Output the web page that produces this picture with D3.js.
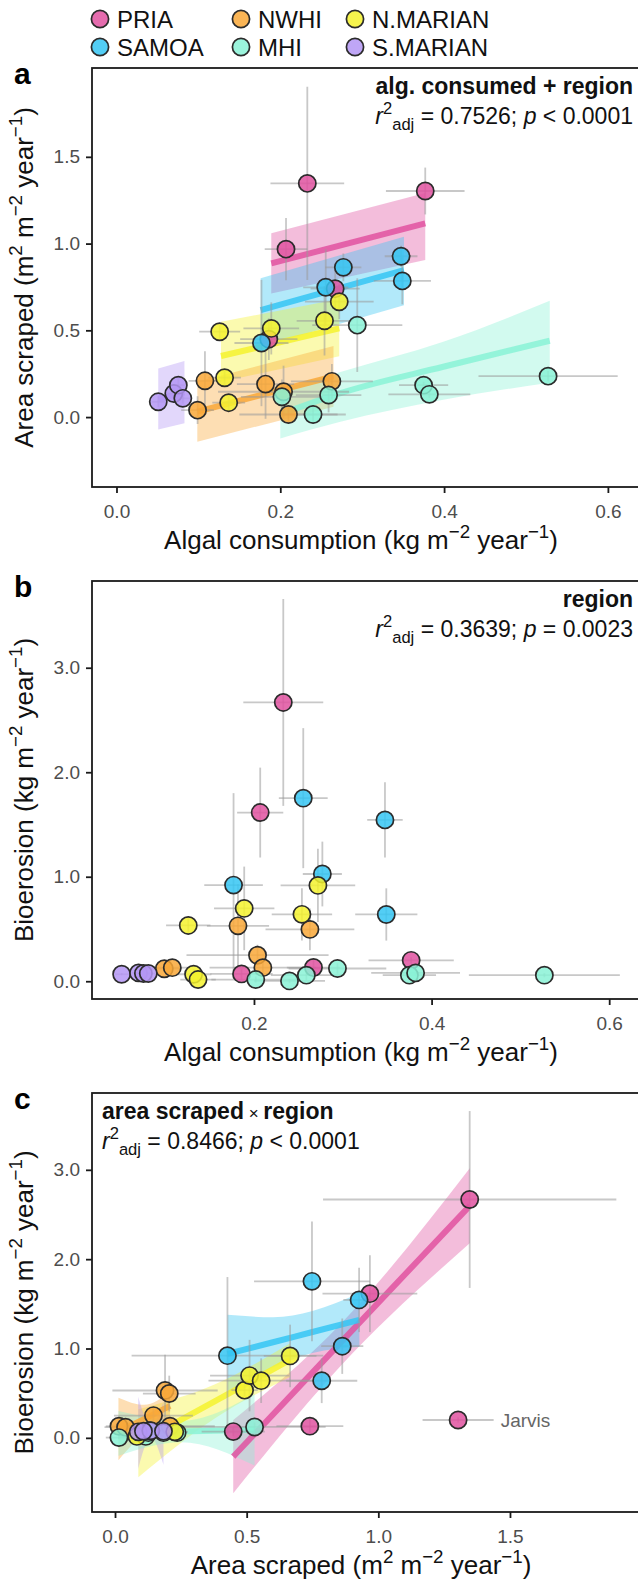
<!DOCTYPE html>
<html><head><meta charset="utf-8">
<script src="https://cdn.jsdelivr.net/npm/d3@7"></script>
<style>
body{margin:0;background:#fff}
svg{display:block}
text{font-family:"Liberation Sans",Arial,sans-serif}
</style></head>
<body><svg id="chart" width="638" height="1583"></svg>
<script>
// ---------- data ----------
const regions = ["PRIA","SAMOA","NWHI","MHI","N.MARIAN","S.MARIAN"];
const regionColors = ["#E052A0","#35C5F3","#F9A838","#8AF2D6","#F5F22E","#B497F5"];
const legendOrder = ["PRIA","NWHI","N.MARIAN","SAMOA","MHI","S.MARIAN"];

const ptRegion = ["PRIA","PRIA","PRIA","PRIA","PRIA",
  "SAMOA","SAMOA","SAMOA","SAMOA","SAMOA",
  "NWHI","NWHI","NWHI","NWHI","NWHI","NWHI",
  "MHI","MHI","MHI","MHI","MHI","MHI","MHI",
  "N.MARIAN","N.MARIAN","N.MARIAN","N.MARIAN","N.MARIAN","N.MARIAN",
  "S.MARIAN","S.MARIAN","S.MARIAN","S.MARIAN"];
const ptLabel = ["","","Jarvis","","", "","","","","", "","","","","","", "","","","","","","", "","","","","","", "","","",""];
const algal = [0.233,0.207,0.377,0.267,0.186, 0.177,0.2555,0.277,0.3475,0.349,
  0.182,0.263,0.204,0.210,0.099,0.108, 0.202,0.240,0.259,0.294,0.375,0.382,0.527,
  0.126,0.189,0.254,0.272,0.132,0.137, 0.051,0.070,0.0755,0.081];
const algalSE = [0.045,0.026,0.048,0.03,0.035, 0.033,0.0275,0.022,0.02,0.035,
  0.035,0.05,0.08,0.06,0.02,0.02, 0.05,0.04,0.04,0.055,0.03,0.05,0.085,
  0.025,0.034,0.034,0.042,0.02,0.02, 0.008,0.008,0.01,0.01];
const areaScraped = [1.347,0.968,1.303,0.74,0.449, 0.427,0.748,0.863,0.927,0.785,
  0.19,0.206,0.146,0.015,0.04,0.209, 0.117,0.015,0.127,0.53,0.184,0.131,0.236,
  0.492,0.511,0.555,0.665,0.227,0.083, 0.088,0.136,0.184,0.108];
const areaSE = [0.557,0.18,0.135,0.127,0.12, 0.364,0.22,0.08,0.06,0.135,
  0.2,0.1,0.15,0.05,0.08,0.17, 0.1,0.05,0.1,0.27,0.02,0.02,0.03,
  0.05,0.15,0.2,0.1,0.05,0.05, 0.03,0.04,0.04,0.03];
const bioerosion = [2.668,1.614,0.2,0.131,0.07, 0.92,1.752,1.026,1.544,0.639,
  0.53,0.496,0.249,0.13,0.12,0.13, 0.016,0.003,0.058,0.122,0.058,0.08,0.058,
  0.534,0.697,0.64,0.917,0.067,0.016, 0.067,0.08,0.074,0.074];
const bioSE = [0.99,0.43,0.03,0.08,0.05, 0.88,0.67,0.31,0.36,0.25,
  0.4,0.2,0.1,0.05,0.03,0.03, 0.03,0.02,0.05,0.05,0.03,0.03,0.02,
  0.07,0.4,0.25,0.35,0.05,0.03, 0.01,0.01,0.01,0.01];

// model fits: [region, x, lower, fit, upper]
const fitA = [
  ["PRIA",0.189,0.713,0.886,1.059],["PRIA",0.377,0.905,1.116,1.291],
  ["SAMOA",0.176,0.405,0.617,0.80],["SAMOA",0.351,0.645,0.847,1.04],
  ["N.MARIAN",0.1276,0.203,0.352,0.549],["N.MARIAN",0.272,0.35,0.511,0.68],
  ["NWHI",0.0987,-0.142,0.031,0.2035],["NWHI",0.265,0.06,0.235,0.409],
  ["MHI",0.2,-0.123,0.016,0.156],["MHI",0.2735,-0.027,0.138,0.26],["MHI",0.399,0.10,0.29,0.434],["MHI",0.529,0.198,0.44,0.67],
  ["S.MARIAN",0.051,-0.071,0.105,0.28],["S.MARIAN",0.083,-0.036,0.143,0.323]
];
const fitC = [
  ["PRIA",0.449,-0.62,-0.21,0.20],["PRIA",0.855,0.80,1.06,1.27],["PRIA",1.348,2.18,2.60,3.02],
  ["SAMOA",0.427,0.503,0.94,1.377],["SAMOA",0.6,0.79,1.07,1.35],["SAMOA",0.75,0.95,1.185,1.42],["SAMOA",0.928,1.02,1.32,1.62],
  ["N.MARIAN",0.0886,-0.44,-0.06,0.32],["N.MARIAN",0.38,0.22,0.41,0.60],["N.MARIAN",0.665,0.68,0.873,1.06],
  ["NWHI",0.013,-0.25,0.07,0.45],["NWHI",0.11,0.05,0.21,0.37],["NWHI",0.209,0.20,0.358,0.52],
  ["S.MARIAN",0.088,-0.35,0.07,0.46],["S.MARIAN",0.136,0.0,0.07,0.14],["S.MARIAN",0.184,-0.30,0.07,0.40],
  ["MHI",0.013,-0.20,0.05,0.30],["MHI",0.25,-0.05,0.07,0.19],["MHI",0.53,-0.31,0.09,0.49]
];

const xTicksA=[0,0.2,0.4,0.6], yTicksA=[0,0.5,1.0,1.5];
const xTicksB=[0.2,0.4,0.6],  yTicksB=[0,1,2,3];
const xTicksC=[0,0.5,1.0,1.5],yTicksC=[0,1,2,3];
const xDomA=[-0.0299,0.6441], yDomA=[-0.403,2.012];
const xDomB=[0.0176,0.6392],  yDomB=[-0.17,3.83];
const xDomC=[-0.0874,2.009],  yDomC=[-0.83,3.86];

// ---------- drawing ----------
const svg = d3.select("#chart");
const color = d3.scaleOrdinal().domain(regions).range(regionColors);
const L = 92, R = 644;
const pts = algal.map((d,i)=>({region:ptRegion[i],label:ptLabel[i],alg:d,algSE:algalSE[i],
  area:areaScraped[i],areaSE:areaSE[i],bio:bioerosion[i],bioSE:bioSE[i]}));

function richText(g, parts, fs){
  let prev = 0;
  parts.forEach(p=>{
    const t = g.append("tspan").text(p[0]);
    let shift = 0, size = fs;
    if(p[1]==="sup"){shift=-fs*0.42; size=fs*0.72;}
    if(p[1]==="sub"){shift=fs*0.28; size=fs*0.72;}
    t.attr("dy", shift - prev).style("font-size", size+"px");
    if(p[2]) t.style("font-style","italic");
    prev = shift;
  });
}

function panel(o){
  const x = d3.scaleLinear().domain(o.xDom).range([L,R]);
  const y = d3.scaleLinear().domain(o.yDom).range([o.bottom,o.top]);
  const g = svg.append("g");
  const cid = "clip"+o.id;
  svg.append("clipPath").attr("id",cid).append("rect")
    .attr("x",L).attr("y",o.top).attr("width",R-L).attr("height",o.bottom-o.top);
  const pg = g.append("g").attr("clip-path",`url(#${cid})`);

  if(o.fit){
    const groups = d3.groups(o.fit, d=>d[0]);
    const area = d3.area().x(d=>x(d[1])).y0(d=>y(d[2])).y1(d=>y(d[4])).curve(d3.curveMonotoneX);
    const line = d3.line().x(d=>x(d[1])).y(d=>y(d[3])).curve(d3.curveMonotoneX);
    groups.forEach(([r,arr])=>{
      pg.append("path").attr("d",area(arr)).attr("fill",color(r)).attr("fill-opacity",0.38);
    });
    groups.forEach(([r,arr])=>{
      pg.append("path").attr("d",line(arr)).attr("fill","none").attr("stroke",color(r))
        .attr("stroke-width",6).attr("stroke-opacity",0.85);
    });
  }
  const eb = pg.append("g").attr("stroke","#9a9a9a").attr("stroke-opacity",0.55).attr("stroke-width",1.8);
  pts.forEach(p=>{
    const cx=x(p[o.xk]), cy=y(p[o.yk]);
    eb.append("line").attr("x1",x(p[o.xk]-p[o.xk+"SE"])).attr("x2",x(p[o.xk]+p[o.xk+"SE"])).attr("y1",cy).attr("y2",cy);
    eb.append("line").attr("y1",y(p[o.yk]-p[o.yk+"SE"])).attr("y2",y(p[o.yk]+p[o.yk+"SE"])).attr("x1",cx).attr("x2",cx);
  });
  pg.append("g").selectAll("circle").data(pts).join("circle")
    .attr("cx",p=>x(p[o.xk])).attr("cy",p=>y(p[o.yk])).attr("r",8.6)
    .attr("fill",p=>color(p.region)).attr("fill-opacity",0.85)
    .attr("stroke","#2b2b2b").attr("stroke-width",1.7);
  if(o.jarvis){
    pts.filter(p=>p.label).forEach(p=>{
      pg.append("text").attr("x",x(p[o.xk]+p[o.xk+"SE"])+7).attr("y",y(p[o.yk])+7)
        .attr("fill","#666").style("font-size","19px").text(p.label);
    });
  }
  g.append("rect").attr("x",L).attr("y",o.top).attr("width",R-L).attr("height",o.bottom-o.top)
    .attr("fill","none").attr("stroke","#1a1a1a").attr("stroke-width",1.8);
  const xa = g.append("g").attr("transform",`translate(0,${o.bottom})`)
    .call(d3.axisBottom(x).tickValues(o.xTicks).tickFormat(d3.format(".1f")).tickSize(6).tickPadding(12));
  const ya = g.append("g").attr("transform",`translate(${L},0)`)
    .call(d3.axisLeft(y).tickValues(o.yTicks).tickFormat(d3.format(".1f")).tickSize(6).tickPadding(6));
  [xa,ya].forEach(a=>{
    a.select(".domain").remove();
    a.selectAll(".tick line").attr("stroke","#1a1a1a").attr("stroke-width",1.8);
    a.selectAll(".tick text").attr("fill","#4d4d4d").style("font-size","19px").style("font-family","Liberation Sans, Arial, sans-serif");
  });
  const xt = g.append("text").attr("x",(L+R)/2 - 7).attr("y",o.bottom+62).attr("text-anchor","middle")
    .style("font-size","26px").attr("fill","#111");
  richText(xt, o.xTitle, 26);
  const yt = g.append("text").attr("transform",`translate(33,${(o.top+o.bottom)/2}) rotate(-90)`)
    .attr("text-anchor","middle").style("font-size","26px").attr("fill","#111");
  richText(yt, o.yTitle, 26);
  g.append("text").attr("x",14).attr("y",o.top+16).style("font-size","30px").style("font-weight","bold").text(o.id);
  const a1 = g.append("text").attr("x",o.annX).attr("y",o.top+26).attr("text-anchor",o.annAnchor)
    .style("font-size","23px").style("font-weight","bold").attr("fill","#111");
  o.ann1.forEach(p=>{a1.append("tspan").text(p[0]).style("font-weight",p[1]?"normal":"bold").style("font-size",(p[1]?17:23)+"px");});
  const a2 = g.append("text").attr("x",o.annX).attr("y",o.top+56).attr("text-anchor",o.annAnchor)
    .style("font-size","23px").attr("fill","#111");
  richText(a2, o.ann2, 23);
}

const unitKg = [[" (kg m"],["−2","sup"],[" year"],["−1","sup"],[")"]];
panel({id:"a", top:68, bottom:487, xDom:xDomA, yDom:yDomA, xTicks:xTicksA, yTicks:yTicksA,
  xk:"alg", yk:"area", fit:fitA,
  xTitle:[["Algal consumption"]].concat(unitKg),
  yTitle:[["Area scraped (m"],["2","sup"],[" m"],["−2","sup"],[" year"],["−1","sup"],[")"]],
  annX:633, annAnchor:"end", ann1:[["alg. consumed + region"]],
  ann2:[["r","",true],["2","sup"],["adj","sub"],[" = 0.7526; "],["p","",true],[" < 0.0001"]]});
panel({id:"b", top:581, bottom:999, xDom:xDomB, yDom:yDomB, xTicks:xTicksB, yTicks:yTicksB,
  xk:"alg", yk:"bio",
  xTitle:[["Algal consumption"]].concat(unitKg),
  yTitle:[["Bioerosion"]].concat(unitKg),
  annX:633, annAnchor:"end", ann1:[["region"]],
  ann2:[["r","",true],["2","sup"],["adj","sub"],[" = 0.3639; "],["p","",true],[" = 0.0023"]]});
panel({id:"c", top:1093, bottom:1512, xDom:xDomC, yDom:yDomC, xTicks:xTicksC, yTicks:yTicksC,
  xk:"area", yk:"bio", fit:fitC, jarvis:true,
  xTitle:[["Area scraped (m"],["2","sup"],[" m"],["−2","sup"],[" year"],["−1","sup"],[")"]],
  yTitle:[["Bioerosion"]].concat(unitKg),
  annX:102, annAnchor:"start", ann1:[["area scraped"],[" × ",true],["region"]],
  ann2:[["r","",true],["2","sup"],["adj","sub"],[" = 0.8466; "],["p","",true],[" < 0.0001"]]});

const lg = svg.append("g");
legendOrder.forEach((r,i)=>{
  const col = i%3, row = Math.floor(i/3);
  const cx = [100,241,355][col], cy = 19 + row*28;
  lg.append("circle").attr("cx",cx).attr("cy",cy).attr("r",8.6).attr("fill",color(r)).attr("fill-opacity",0.85)
    .attr("stroke","#2b2b2b").attr("stroke-width",1.7);
  lg.append("text").attr("x",cx+17).attr("y",cy+8.5).style("font-size","24px").attr("fill","#111").text(r);
});
</script></body></html>
